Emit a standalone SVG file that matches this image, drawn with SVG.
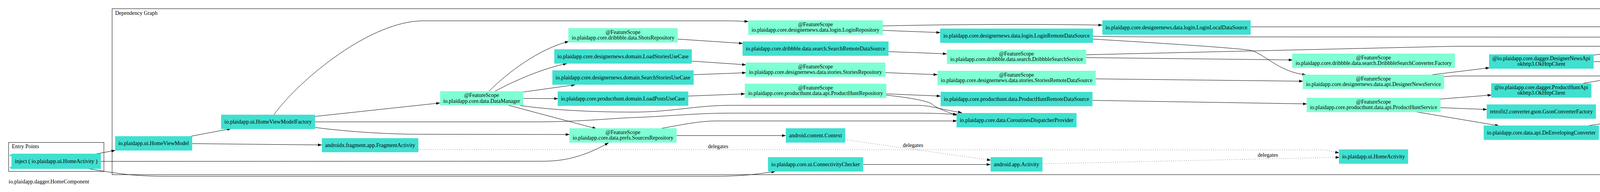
<svg xmlns="http://www.w3.org/2000/svg" width="4893" height="491" viewBox="0 0 4893 491">
<style>
.t{fill:#40e0d0}
.a{fill:#7fffd4}
text{font-family:"Liberation Serif","Times New Roman",serif;font-size:14px;fill:#000}
.c{text-anchor:middle}
.cl{fill:none;stroke:#000;stroke-width:1}
.e{fill:none;stroke:#000;stroke-width:1;marker-end:url(#ah)}
.d{fill:none;stroke:#000;stroke-width:1;stroke-dasharray:1,4.5;marker-end:url(#ah)}
</style>
<defs>
<marker id="ah" viewBox="0 0 10 7" refX="10" refY="3.5" markerWidth="10" markerHeight="7" markerUnits="userSpaceOnUse" orient="auto"><path d="M0,0L10,3.5L0,7z" fill="#000"/></marker>
</defs>
<rect width="4893" height="491" fill="#fff"/>
<g id="clusters">
<rect class="cl" x="287" y="22.3" width="4584" height="424.4"/>
<text x="294.7" y="37.5">Dependency Graph</text>
<rect class="cl" x="22" y="364.3" width="244" height="74"/>
<text x="30.3" y="378.7">Entry Points</text>
<text x="22" y="469">io.plaidapp.dagger.HomeComponent</text>
</g>
<g id="edges">
<path class="e" d="M241.7,394.3L295.3,384.6"/>
<path class="e" d="M258.3,412.7L1390,412.3C1460,412.3 1510,392 1558,365"/>
<path class="e" d="M222,430.7C280,440 330,450.7 420,450.7L1833,450.7C1900,450.7 1940,445 1985,438.5"/>
<path class="e" d="M489.3,348.3L591.7,329"/>
<path class="e" d="M492,367.3L824,370.7"/>
<path class="e" d="M701,293.3C770,200 950,53.3 1083,53.3L1857,53.3C1880,53.3 1900,54.3 1916,55"/>
<path class="e" d="M806.7,297.7L1126.7,263.3"/>
<path class="e" d="M806.7,311.7L1370,311.7C1480,311.7 1560,303 1620,300.7C1720,297 1780,289.3 1873,289.3L2346.7,289.3C2400,289.3 2420,291.5 2450,292.3"/>
<path class="e" d="M806.7,326C900,338 1000,343.3 1073.3,343.3L1458.3,344"/>
<path class="e" d="M1251.7,233.3C1300,185 1380,125 1456,106"/>
<path class="e" d="M1267.3,233.3C1320,205 1390,175 1451.7,162.3"/>
<path class="e" d="M1340,235.3L1472.7,216.7"/>
<path class="e" d="M1340,251.7L1428.7,252.3"/>
<path class="e" d="M1331.7,270C1420,282 1520,286.7 1620,286.7C1720,286.7 1780,269.3 1873,269.3L2346.7,269.3C2380,269.3 2400,278 2462.7,288.3"/>
<path class="e" d="M1301.7,269.3L1526.7,329"/>
<path class="e" d="M1735,100L1901.7,111"/>
<path class="e" d="M1771,156.3L1910,165.7"/>
<path class="e" d="M1775.7,191L1910,186"/>
<path class="e" d="M1762,245.7L1907.3,240"/>
<path class="e" d="M1693.3,328.3C1740,320 1790,309.3 1833.3,309.3L2450,309.3"/>
<path class="e" d="M1732,346.7L2011.7,346.7"/>
<path class="e" d="M2260,66.3C2500,61 2700,62 2822,64.3"/>
<path class="e" d="M2260,77.7L2407.3,83.3"/>
<path class="e" d="M2274.7,132L2424,137.7"/>
<path class="e" d="M2266.3,185.7L2400,191"/>
<path class="e" d="M2269,240L2408,245.7"/>
<path class="e" d="M2269,243.3C2330,250 2375,258 2386.7,266.7C2395,275 2420,285 2450,295"/>
<path class="e" d="M2209.7,420.7L2536,420.7"/>
<path class="e" d="M2798,92.7C2850,94 2900,94.3 3000,94.3L4167.7,95"/>
<path class="e" d="M2798,100C3000,112 3150,122 3200,128.3C3240,138 3270,183 3344,191.7"/>
<path class="e" d="M2780.7,140L3723.3,118.3L4136.7,118.3C4165,118.3 4180,138 4303.3,154"/>
<path class="e" d="M2780.7,147.3L3309.3,153.3"/>
<path class="e" d="M2805,201.7L3336,207.7"/>
<path class="e" d="M2796.7,256.7L3345.7,265.7"/>
<path class="e" d="M3201.7,68.7L4626.7,68.3L4651.7,69.7"/>
<path class="e" d="M3665,191.3L3813.3,173.3"/>
<path class="e" d="M3697,196L3720,194.3L4143,194.3C4200,196 4280,225 4340,257.7"/>
<path class="e" d="M3687.3,253.3L3818.3,243"/>
<path class="e" d="M3687.7,275.3L3806.7,280"/>
<path class="e" d="M3625,286L3837.7,321.7"/>
<path class="e" d="M4080,140.7L4225,124"/>
<path class="e" d="M4079.7,157.7L4302.7,159"/>
<path class="e" d="M4053.3,213L4304,171"/>
<path class="e" d="M4068.3,321L4300,287.3"/>
<path class="e" d="M4576.7,93.3L4651.7,89.3"/>
<path class="d" d="M1071,382.7L3390,383.3C3400,384 3410,388 3428.3,390.7"/>
<text class="c" x="1838.3" y="378.7">delegates</text>
<path class="d" d="M2163.7,357.3L2536.7,409.7"/>
<text class="c" x="2337.3" y="375.5">delegates</text>
<path class="d" d="M2668.7,419L3216.7,406.7L3429.3,402.3"/>
<text class="c" x="3245.7" y="401">delegates</text>
</g>
<g id="n_inject">
<rect class="t" x="25.3" y="395" width="8" height="4.7"/>
<rect class="t" x="25.3" y="426.3" width="8" height="4.7"/>
<rect class="t" x="29.3" y="393" width="229" height="39"/>
<text class="c" x="143.8" y="417">inject ( io.plaidapp.ui.HomeActivity )</text>
</g>
<g id="n_hvm"><rect class="t" x="294.7" y="348.3" width="197.3" height="36.7"/><text class="c" x="393.3" y="371.2">io.plaidapp.ui.HomeViewModel</text></g>
<g id="n_hvmf"><rect class="t" x="566" y="293.3" width="240.7" height="36.7"/><text class="c" x="686.3" y="316.2">io.plaidapp.ui.HomeViewModelFactory</text></g>
<g id="n_frag"><rect class="t" x="824" y="353.3" width="247" height="36"/><text class="c" x="947.5" y="375.8">androidx.fragment.app.FragmentActivity</text></g>
<g id="n_dm"><rect class="a" x="1126.7" y="233.3" width="212.6" height="36"/><text class="c" x="1233" y="248">@FeatureScope</text><text class="c" x="1233" y="262.5">io.plaidapp.core.data.DataManager</text></g>
<g id="n_shots"><rect class="a" x="1455" y="72" width="280" height="36.7"/><text class="c" x="1595" y="86.8">@FeatureScope</text><text class="c" x="1595" y="101.3">io.plaidapp.core.dribbble.data.ShotsRepository</text></g>
<g id="n_lsu"><rect class="t" x="1419" y="126" width="352" height="36.7"/><text class="c" x="1595" y="148.8">io.plaidapp.core.designernews.domain.LoadStoriesUseCase</text></g>
<g id="n_ssu"><rect class="t" x="1414" y="180" width="361.7" height="36.7"/><text class="c" x="1594.8" y="202.8">io.plaidapp.core.designernews.domain.SearchStoriesUseCase</text></g>
<g id="n_lpu"><rect class="t" x="1427.7" y="234" width="334.3" height="36.7"/><text class="c" x="1594.8" y="256.8">io.plaidapp.core.producthunt.domain.LoadPostsUseCase</text></g>
<g id="n_src"><rect class="a" x="1457.7" y="328" width="274.3" height="36.7"/><text class="c" x="1594.8" y="342.8">@FeatureScope</text><text class="c" x="1594.8" y="357.3">io.plaidapp.core.data.prefs.SourcesRepository</text></g>
<g id="n_login"><rect class="a" x="1915.3" y="52" width="344.7" height="36.7"/><text class="c" x="2087.7" y="66.8">@FeatureScope</text><text class="c" x="2087.7" y="81.3">io.plaidapp.core.designernews.data.login.LoginRepository</text></g>
<g id="n_srds"><rect class="t" x="1901" y="106" width="373.7" height="36.7"/><text class="c" x="2087.8" y="128.8">io.plaidapp.core.dribbble.data.search.SearchRemoteDataSource</text></g>
<g id="n_sr"><rect class="a" x="1909" y="160" width="357.3" height="36.7"/><text class="c" x="2087.7" y="174.8">@FeatureScope</text><text class="c" x="2087.7" y="189.3">io.plaidapp.core.designernews.data.stories.StoriesRepository</text></g>
<g id="n_phr"><rect class="a" x="1906.7" y="214" width="362.3" height="36.7"/><text class="c" x="2087.8" y="228.8">@FeatureScope</text><text class="c" x="2087.8" y="243.3">io.plaidapp.core.producthunt.data.api.ProductHuntRepository</text></g>
<g id="n_ctx"><rect class="t" x="2011.7" y="328" width="152" height="36.7"/><text class="c" x="2087.7" y="350.8">android.content.Context</text></g>
<g id="n_cc"><rect class="t" x="1966" y="402" width="243.7" height="36.7"/><text class="c" x="2087.8" y="424.8">io.plaidapp.core.ui.ConnectivityChecker</text></g>
<g id="n_lrds"><rect class="t" x="2406.7" y="73" width="391.3" height="36.7"/><text class="c" x="2602.3" y="95.8">io.plaidapp.core.designernews.data.login.LoginRemoteDataSource</text></g>
<g id="n_dss"><rect class="a" x="2424" y="127" width="356.7" height="36.7"/><text class="c" x="2602.3" y="141.8">@FeatureScope</text><text class="c" x="2602.3" y="156.3">io.plaidapp.core.dribbble.data.search.DribbbleSearchService</text></g>
<g id="n_srds2"><rect class="a" x="2400" y="181" width="405" height="36.7"/><text class="c" x="2602.5" y="195.8">@FeatureScope</text><text class="c" x="2602.5" y="210.3">io.plaidapp.core.designernews.data.stories.StoriesRemoteDataSource</text></g>
<g id="n_phrds"><rect class="t" x="2408" y="235" width="388.7" height="36.7"/><text class="c" x="2602.3" y="257.8">io.plaidapp.core.producthunt.data.ProductHuntRemoteDataSource</text></g>
<g id="n_cdp"><rect class="t" x="2448.7" y="289" width="307.3" height="36.7"/><text class="c" x="2602.3" y="311.8">io.plaidapp.core.data.CoroutinesDispatcherProvider</text></g>
<g id="n_act"><rect class="t" x="2536" y="402" width="132.7" height="36.7"/><text class="c" x="2602.3" y="424.8">android.app.Activity</text></g>
<g id="n_lld"><rect class="t" x="2822" y="52" width="379.7" height="36.7"/><text class="c" x="3011.8" y="74.8">io.plaidapp.core.designernews.data.login.LoginLocalDataSource</text></g>
<g id="n_dscf"><rect class="a" x="3308" y="137" width="416.7" height="36.7"/><text class="c" x="3516.3" y="151.8">@FeatureScope</text><text class="c" x="3516.3" y="166.3">io.plaidapp.core.dribbble.data.search.DribbbleSearchConverter.Factory</text></g>
<g id="n_dns"><rect class="a" x="3335" y="191" width="362" height="36.7"/><text class="c" x="3516" y="205.8">@FeatureScope</text><text class="c" x="3516" y="220.3">io.plaidapp.core.designernews.data.api.DesignerNewsService</text></g>
<g id="n_phs"><rect class="a" x="3345" y="250" width="342.7" height="36.7"/><text class="c" x="3516.3" y="264.8">@FeatureScope</text><text class="c" x="3516.3" y="279.3">io.plaidapp.core.producthunt.data.api.ProductHuntService</text></g>
<g id="n_home"><rect class="t" x="3427.7" y="382" width="177" height="36.7"/><text class="c" x="3516.2" y="404.8">io.plaidapp.ui.HomeActivity</text></g>
<g id="n_dnok"><rect class="t" x="3812" y="139" width="267.7" height="36.7"/><text class="c" x="3945.8" y="153.8">@io.plaidapp.core.dagger.DesignerNewsApi</text><text class="c" x="3945.8" y="168.3">okhttp3.OkHttpClient</text></g>
<g id="n_phok"><rect class="t" x="3817.3" y="213" width="256.7" height="36.7"/><text class="c" x="3945.7" y="227.8">@io.plaidapp.core.dagger.ProductHuntApi</text><text class="c" x="3945.7" y="242.3">okhttp3.OkHttpClient</text></g>
<g id="n_gcf"><rect class="t" x="3806" y="267" width="279.7" height="36.7"/><text class="c" x="3945.8" y="289.8">retrofit2.converter.gson.GsonConverterFactory</text></g>
<g id="n_dec"><rect class="t" x="3798.3" y="321" width="295" height="36.7"/><text class="c" x="3945.8" y="343.8">io.plaidapp.core.data.api.DeEnvelopingConverter</text></g>
<g id="n_auth"><rect class="a" x="4167" y="87" width="409.7" height="36.7"/><text class="c" x="4371.8" y="101.8">@FeatureScope</text><text class="c" x="4371.8" y="116.3">io.plaidapp.core.designernews.data.login.AuthTokenLocalDataSource</text></g>
<g id="n_ok"><rect class="t" x="4302.7" y="141" width="139" height="36.7"/><text class="c" x="4372.2" y="163.8">okhttp3.OkHttpClient</text></g>
<g id="n_gson"><rect class="t" x="4299.3" y="258" width="145.7" height="36.7"/><text class="c" x="4372.2" y="280.8">com.google.gson.Gson</text></g>
<g id="n_sp"><rect class="a" x="4650.7" y="65" width="212.3" height="36.7"/><text class="c" x="4756.8" y="79.8">@FeatureScope</text><text class="c" x="4756.8" y="94.3">android.content.SharedPreferences</text></g>
</svg>
